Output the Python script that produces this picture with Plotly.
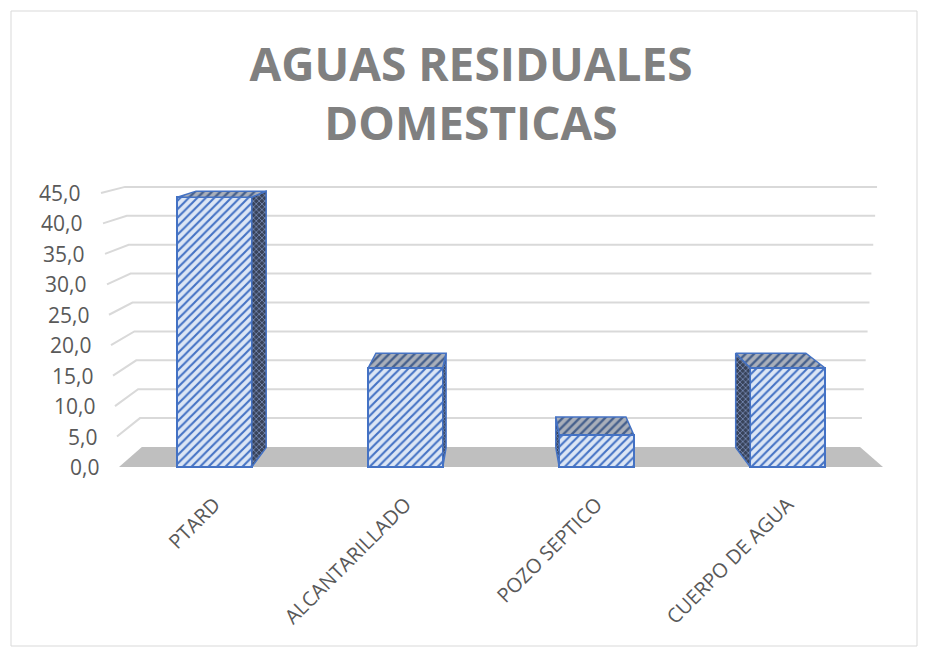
import plotly.graph_objects as go

# ---- data ----
categories = ["PTARD", "ALCANTARILLADO", "POZO SEPTICO", "CUERPO DE AGUA"]
values = [44.3, 16.3, 5.3, 16.3]
y_ticks = [0, 5, 10, 15, 20, 25, 30, 35, 40, 45]

# ---- pseudo-3D geometry (pixels of the 928x649 canvas) ----
W, H = 928, 649
PL, PR, PT, PB = 30, 900, 170, 480           # plot area
FRONT_Y0, FRONT_K = 467.0, 6.09               # front plane: px_y = Y0 - K*v
BACK_Y0, BACK_K = 447.0, 5.78                 # back wall
CAT_X0, CAT_STEP = 214.5, 191.0               # category centres on the floor front
BAR_W = 0.39                                  # bar width in category units
BAR_DEPTH = 0.97                              # bar depth as a share of the floor depth
VP_X = 500.0                                  # horizontal vanishing centre
SHRINK = 0.06                                 # horizontal shrink from front to back
LEAN = 0.00105                                # vertical perspective of the walls
LABEL_GAP = 18                                # value labels: distance from the side wall

BLUE = "#4472C4"


def to_data(px, py):
    return (px - CAT_X0) / CAT_STEP, (FRONT_Y0 - py) / FRONT_K


def project(xb, v, d, lean=False):
    """Floor-front pixel x, value v, depth d (0 front .. 1 back) -> data coords."""
    x = VP_X + (xb - VP_X) * (1 - SHRINK * d)
    if lean:
        x = VP_X + (x - VP_X) * (1 + LEAN * v)
    y = (FRONT_Y0 - FRONT_K * v) * (1 - d) + (BACK_Y0 - BACK_K * v) * d
    return to_data(x, y)


def path(points):
    return "M " + " L ".join(f"{x:.5f},{y:.5f}" for x, y in points)


floor_left = CAT_X0 - 0.5 * CAT_STEP
floor_right = CAT_X0 + (len(categories) - 0.5) * CAT_STEP

shapes = []
# floor
shapes.append(dict(
    type="path", xref="x", yref="y", layer="below",
    path=path([project(floor_left, 0, 0), project(floor_left, 0, 1),
               project(floor_right, 0, 1), project(floor_right, 0, 0)]) + " Z",
    fillcolor="#BFBFBF", line=dict(width=0),
))
# gridlines: side-wall segment + back-wall line
for v in y_ticks[1:]:
    shapes.append(dict(
        type="path", xref="x", yref="y", layer="below",
        path=path([project(floor_left, v, 0, True), project(floor_left, v, 1, True),
                   project(floor_right, v, 1, True)]),
        line=dict(color="#D9D9D9", width=2),
    ))
# chart border
shapes.append(dict(type="rect", xref="paper", yref="paper",
                   x0=(11 - PL) / (PR - PL), x1=(917 - PL) / (PR - PL),
                   y0=(PB - 646) / (PB - PT), y1=(PB - 11) / (PB - PT),
                   line=dict(color="#D9D9D9", width=1)))

fig = go.Figure()

# top and side faces of the columns
for i, v in enumerate(values):
    xl = CAT_X0 + (i - BAR_W / 2) * CAT_STEP
    xr = CAT_X0 + (i + BAR_W / 2) * CAT_STEP
    edge = xr if (xl + xr) / 2 < VP_X else xl
    side = [project(edge, 0, 0), project(edge, v, 0),
            project(edge, v, BAR_DEPTH), project(edge, 0, BAR_DEPTH)]
    top = [project(xl, v, 0), project(xr, v, 0),
           project(xr, v, BAR_DEPTH), project(xl, v, BAR_DEPTH)]
    for pts, pat in ((side, dict(shape="x", bgcolor="#38435A", fgcolor="#7C90BC",
                                  size=4, solidity=0.35)),
                     (top, dict(shape="/", bgcolor="#A9AFBA", fgcolor="#46608C",
                                size=6, solidity=0.4))):
        xs = [p[0] for p in pts] + [pts[0][0]]
        ys = [p[1] for p in pts] + [pts[0][1]]
        fig.add_trace(go.Scatter(
            x=xs, y=ys, mode="lines", fill="toself",
            fillpattern=dict(fillmode="replace", **pat),
            line=dict(color=BLUE, width=1.5),
            hoverinfo="skip", showlegend=False,
        ))

# front faces of the columns
fig.add_trace(go.Bar(
    x=list(range(len(categories))), y=values, width=BAR_W,
    marker=dict(
        line=dict(color=BLUE, width=2),
        pattern=dict(shape="/", fillmode="replace", fgcolor=BLUE,
                     bgcolor="#DCE6F5", size=6, solidity=0.35),
    ),
    hovertext=categories, showlegend=False,
))

# value-axis labels along the leaning front edge of the side wall
annotations = []
for v in y_ticks:
    ax, ay = project(floor_left - LABEL_GAP, v, 0, True)
    annotations.append(dict(
        x=ax, y=ay, xref="x", yref="y", text=f"{v:.1f}".replace(".", ","),
        showarrow=False, xanchor="right", yanchor="middle",
        font=dict(family="Open Sans", size=21, color="#595959"),
    ))

fig.update_layout(
    width=W, height=H,
    margin=dict(l=PL, r=W - PR, t=PT, b=H - PB, pad=0),
    paper_bgcolor="white", plot_bgcolor="rgba(0,0,0,0)",
    title=dict(
        text="AGUAS RESIDUALES<br>DOMESTICAS",
        x=471 / W, xanchor="center", xref="container",
        y=1 - 80.5 / H, yanchor="middle", yref="container",
        font=dict(family="Open Sans", size=46, color="#808080", weight="bold"),
    ),
    xaxis=dict(
        range=[(PL - CAT_X0) / CAT_STEP, (PR - CAT_X0) / CAT_STEP],
        tickvals=list(range(len(categories))), ticktext=categories,
        tickangle=-45, showgrid=False, zeroline=False, showline=False,
        ticks="", ticklabelstandoff=8,
        tickfont=dict(family="Open Sans", size=20, color="#595959"),
    ),
    yaxis=dict(
        range=[(FRONT_Y0 - PB) / FRONT_K, (FRONT_Y0 - PT) / FRONT_K],
        showgrid=False, zeroline=False, showline=False, showticklabels=False,
    ),
    shapes=shapes, annotations=annotations,
    bargap=0,
)

fig.write_html("out.html")
